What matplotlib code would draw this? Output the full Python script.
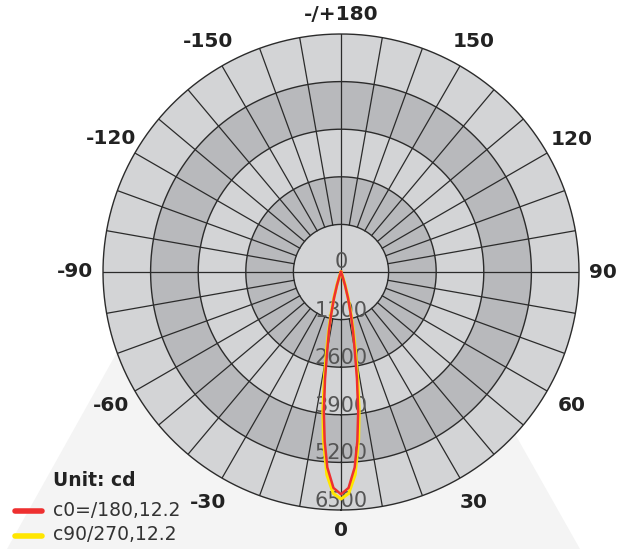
import numpy as np
import matplotlib
matplotlib.use('Agg')
import matplotlib.pyplot as plt

# luminous intensity (cd) vs gamma angle (deg)
angles_c0 = [-25, -20, -17, -15, -13, -11.5, -10, -8.5, -7, -5.5, -4, -2, 0,
             2, 4, 5.5, 7, 8.5, 10, 11.5, 13, 15, 17, 20, 25]
cd_c0 = [0, 100, 370, 740, 1200, 1650, 2150, 2950, 3850, 4650, 5350, 5900, 6070,
         5900, 5350, 4650, 3850, 2950, 2150, 1650, 1200, 740, 370, 100, 0]

angles_c90 = [-25, -20, -17.5, -15.5, -13.5, -12, -10.5, -9, -7.5, -6, -4, -2, 0,
              2, 4, 6, 7.5, 9, 10.5, 12, 13.5, 15.5, 17.5, 20, 25]
cd_c90 = [0, 130, 380, 720, 1150, 1600, 2150, 2900, 3800, 4600, 5550, 6050, 6200,
          6050, 5550, 4600, 3800, 2900, 2150, 1600, 1150, 720, 380, 130, 0]

ring_values = [0, 1300, 2600, 3900, 5200, 6500]
angle_ticks = [0, 30, 60, 90, 120, 150, 180, -150, -120, -90, -60, -30]
angle_labels = ['0', '30', '60', '90', '120', '150', '-/+180', '-150', '-120', '-90', '-60', '-30']
series_names = ['c0=/180,12.2', 'c90/270,12.2']
series_colors = ['#ee3030', '#ffe600']
unit_text = 'Unit: cd'

W, H = 632, 549
fig = plt.figure(figsize=(W / 100, H / 100), dpi=100)

# background axes in pixel coordinates
bg = fig.add_axes([0, 0, 1, 1])
bg.set_xlim(0, W)
bg.set_ylim(H, 0)
bg.axis('off')
bg.fill([292, 7, 580], [39, H, H], color='#f4f4f4', lw=0, zorder=0)

# polar diagram
cx, cy, R = 341, 272, 238
ax = fig.add_axes([(cx - R) / W, (H - cy - R) / H, 2 * R / W, 2 * R / H], projection='polar')
ax.set_theta_zero_location('S')
ax.set_theta_direction(1)
rmax = ring_values[-1]
ax.set_ylim(0, rmax)
ax.set_facecolor('none')
ax.grid(False)
ax.set_xticks([])
ax.set_yticks([])
ax.spines['polar'].set_visible(False)

light, dark = '#d3d4d6', '#b8b9bc'
for k in range(len(ring_values) - 1):
    ax.bar(0, ring_values[k + 1] - ring_values[k], width=2 * np.pi, bottom=ring_values[k],
           color=light if k % 2 == 0 else dark, edgecolor='none', zorder=1)

line_c = '#2b2b2b'
tt = np.linspace(0, 2 * np.pi, 400)
for r in ring_values[1:]:
    ax.plot(tt, np.full_like(tt, r), color=line_c, lw=1.0, zorder=2, clip_on=False)
for a in range(0, 360, 10):
    r0 = 0 if a % 90 == 0 else ring_values[1]
    ax.plot([np.deg2rad(a)] * 2, [r0, rmax], color=line_c, lw=0.9, zorder=2)

# radial value labels along 0 deg
for v in ring_values:
    ax.annotate(str(v), xy=(0, v), xytext=(0, 9 if v else 10), textcoords='offset pixels',
                ha='center', va='center', fontsize=15, color='#555555', zorder=3)

# curves
ax.plot(np.deg2rad(angles_c90), cd_c90, color=series_colors[1], lw=2.2, zorder=4)
ax.plot(np.deg2rad(angles_c0), cd_c0, color=series_colors[0], lw=1.8, zorder=5)

# angle labels
for a, lab in zip(angle_ticks, angle_labels):
    if a in (0, 180):
        rp = 258
    elif abs(a) == 90:
        rp = 262 + (4 if a < 0 else 0)
    else:
        rp = 266
    ax.text(np.deg2rad(a), rmax * rp / R, lab, ha='center', va='center',
            fontsize=14.5, fontweight='bold', color='#222222', clip_on=False)

# legend
bg.text(53, 481, unit_text, fontsize=13.5, fontweight='bold', color='#222222', va='center')
for i, (name, col) in enumerate(zip(series_names, series_colors)):
    y = 511 + 25 * i
    bg.plot([15, 42], [y, y], color=col, lw=4, solid_capstyle='round')
    bg.text(53, y - 1, name, fontsize=13.5, color='#333333', va='center')

fig.savefig('out.png', dpi=100)
